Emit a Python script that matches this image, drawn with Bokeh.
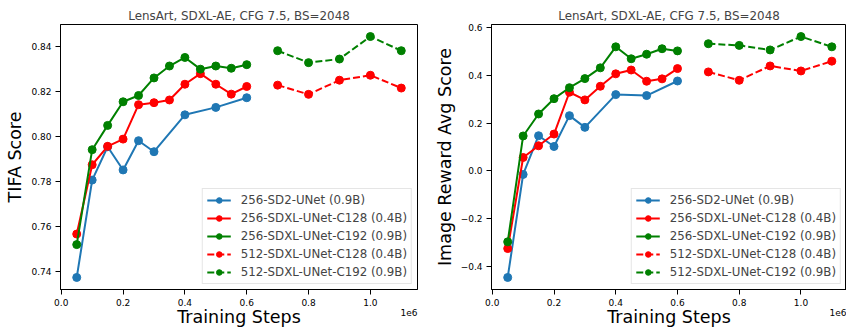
from bokeh.plotting import figure
from bokeh.models import Range1d, FixedTicker, Legend, LegendItem, LinearAxis
from bokeh.layouts import row
from bokeh.embed import file_html
from bokeh.resources import INLINE

FONT = "DejaVu Sans"
TITLE = "LensArt, SDXL-AE, CFG 7.5, BS=2048"

# training steps (x 1e6)
steps_sd2 = [0.05, 0.10, 0.15, 0.20, 0.25, 0.30, 0.40, 0.50, 0.60]
steps_256 = [0.05, 0.10, 0.15, 0.20, 0.25, 0.30, 0.35, 0.40, 0.45, 0.50, 0.55, 0.60]
steps_512 = [0.70, 0.80, 0.90, 1.00, 1.10]

series_names = [
    "256-SD2-UNet (0.9B)",
    "256-SDXL-UNet-C128 (0.4B)",
    "256-SDXL-UNet-C192 (0.9B)",
    "512-SDXL-UNet-C128 (0.4B)",
    "512-SDXL-UNet-C192 (0.9B)",
]

# TIFA score
tifa_sd2 = [0.7373, 0.7806, 0.7954, 0.7851, 0.7981, 0.7932, 0.8096, 0.8129, 0.8172]
tifa_c128 = [0.7566, 0.7874, 0.7956, 0.7988, 0.8141, 0.8150, 0.8162, 0.8232, 0.8279, 0.8232, 0.8188, 0.8222]
tifa_c192 = [0.7519, 0.7941, 0.8049, 0.8154, 0.8182, 0.8260, 0.8313, 0.8351, 0.8299, 0.8313, 0.8303, 0.8319]
tifa_c128_512 = [0.8228, 0.8187, 0.8250, 0.8272, 0.8215]
tifa_c192_512 = [0.8381, 0.8328, 0.8344, 0.8444, 0.8381]

# Image Reward average score
ir_sd2 = [-0.446, -0.015, 0.147, 0.102, 0.231, 0.182, 0.319, 0.315, 0.376]
ir_c128 = [-0.325, 0.056, 0.105, 0.154, 0.329, 0.297, 0.354, 0.406, 0.422, 0.375, 0.385, 0.428]
ir_c192 = [-0.297, 0.146, 0.238, 0.302, 0.348, 0.386, 0.431, 0.519, 0.469, 0.488, 0.511, 0.502]
ir_c128_512 = [0.414, 0.379, 0.439, 0.418, 0.459]
ir_c192_512 = [0.532, 0.525, 0.506, 0.562, 0.519]

x_ticks = [0.0, 0.2, 0.4, 0.6, 0.8, 1.0]
x_tick_labels = ["0.0", "0.2", "0.4", "0.6", "0.8", "1.0"]
tifa_ticks = [0.74, 0.76, 0.78, 0.80, 0.82, 0.84]
tifa_tick_labels = ["0.74", "0.76", "0.78", "0.80", "0.82", "0.84"]
ir_ticks = [-0.4, -0.2, 0.0, 0.2, 0.4, 0.6]
ir_tick_labels = ["\u22120.4", "\u22120.2", "0.0", "0.2", "0.4", "0.6"]
x_offset_text = "1e6"

colors = ["#1f77b4", "#ff0000", "#008000", "#ff0000", "#008000"]
dashes = ["solid", "solid", "solid", "7 3", "7 3"]


def style_axis(ax):
    ax.major_tick_in = 0
    ax.major_tick_out = 5
    ax.minor_tick_in = 0
    ax.minor_tick_out = 0
    ax.major_tick_line_color = "black"
    ax.axis_line_color = "black"
    ax.major_label_text_font = FONT
    ax.major_label_text_font_size = "9px"
    ax.major_label_text_color = "black"
    ax.axis_label_text_font = FONT
    ax.axis_label_text_font_size = "17.5px"
    ax.axis_label_text_font_style = "normal"
    ax.axis_label_text_color = "black"
    ax.major_label_standoff = 4


def make_panel(ys, yticks, ylabels, ylabel, x_end, mb_left, mb_right, mb_top):
    xs_all = [steps_sd2, steps_256, steps_256, steps_512, steps_512]
    allx = [v for s in xs_all for v in s]
    ally = [v for s in ys for v in s]
    xmn, xmx = min(allx), max(allx)
    ymn, ymx = min(ally), max(ally)
    xm = 0.05 * (xmx - xmn)
    ym = 0.05 * (ymx - ymn)
    x0, x1 = xmn - xm, (x_end if x_end else xmx + xm)
    y0, y1 = ymn - ym, ymx + ym
    W, H, MB = 423, 329, 40
    p = figure(width=W, height=H,
               x_range=Range1d(x0, x1), y_range=Range1d(y0, y1),
               toolbar_location=None, output_backend="svg",
               min_border_left=mb_left, min_border_right=mb_right,
               min_border_top=mb_top, min_border_bottom=MB)
    p.grid.visible = False
    p.outline_line_color = "black"
    p.outline_line_width = 1
    p.background_fill_color = "white"
    p.border_fill_color = "white"

    p.title.text = TITLE
    p.title.text_font = FONT
    p.title.text_font_size = "11.9px"
    p.title.text_font_style = "normal"
    p.title.align = "center"
    p.title.standoff = 3

    style_axis(p.xaxis[0])
    style_axis(p.yaxis[0])

    p.xaxis.ticker = FixedTicker(ticks=x_ticks)
    p.xaxis.major_label_overrides = dict(zip(x_ticks, x_tick_labels))
    p.yaxis.ticker = FixedTicker(ticks=yticks)
    p.yaxis.major_label_overrides = dict(zip(yticks, ylabels))
    p.yaxis.axis_label = ylabel
    p.yaxis.axis_label_standoff = 3

    # outer bottom axis: carries "Training Steps" and the "1e6" offset text
    frame_w = W - mb_left - mb_right
    x_per_px = (x1 - x0) / frame_w
    xpos = x1 - 8.5 * x_per_px
    ax2 = LinearAxis(ticker=FixedTicker(ticks=[xpos]),
                     major_label_overrides={xpos: x_offset_text})
    style_axis(ax2)
    ax2.axis_line_color = None
    ax2.major_tick_out = 0
    ax2.major_label_standoff = 0
    ax2.axis_label = "Training Steps"
    ax2.axis_label_standoff = -12
    p.add_layout(ax2, "below")

    items = []
    for name, xs, yv, c, d in zip(series_names, xs_all, ys, colors, dashes):
        lr = p.line(xs, yv, line_color=c, line_width=2, line_dash=d)
        sr = p.scatter(xs, yv, size=8, fill_color=c, line_color=c, marker="circle")
        items.append(LegendItem(label=name, renderers=[lr, sr]))

    legend = Legend(items=items, location="bottom_right",
                    label_text_font=FONT, label_text_font_size="11.8px",
                    glyph_width=24, glyph_height=14, label_height=14,
                    label_standoff=10, spacing=4, padding=4, margin=5,
                    border_line_color="#cccccc", border_line_width=1,
                    background_fill_alpha=0.8)
    p.add_layout(legend)
    return p


p1 = make_panel([tifa_sd2, tifa_c128, tifa_c192, tifa_c128_512, tifa_c192_512],
                tifa_ticks, tifa_tick_labels, "TIFA Score", None, 60, 6, 23)
p2 = make_panel([ir_sd2, ir_c128, ir_c192, ir_c128_512, ir_c192_512],
                ir_ticks, ir_tick_labels, "Image Reward Avg Score", 1.1475, 68, 0, 24)

layout = row(p1, p2, spacing=0)
open("out.html", "w").write(file_html(layout, INLINE))
